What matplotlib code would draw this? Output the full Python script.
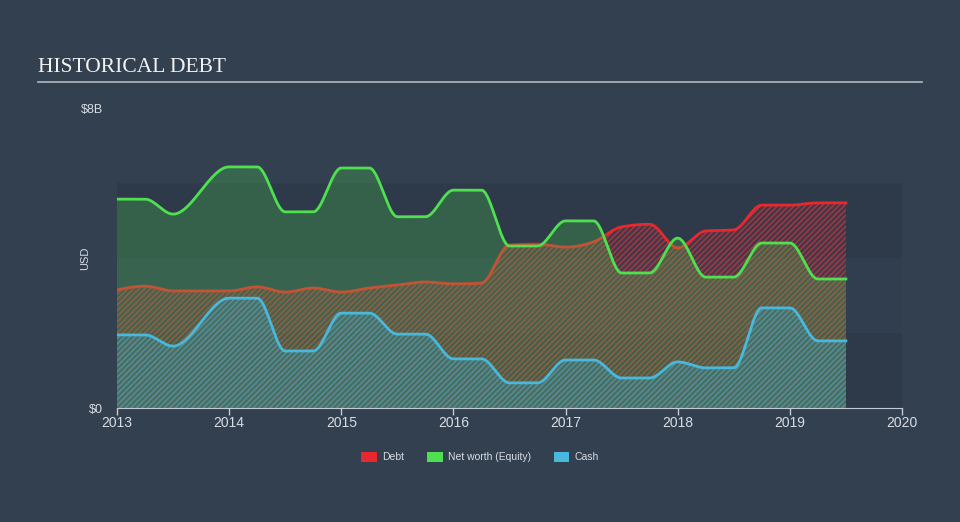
import numpy as np
import matplotlib
matplotlib.use("Agg")
import matplotlib.pyplot as plt
from matplotlib.patches import Patch, Rectangle
from matplotlib.lines import Line2D

# quarter-ish report dates (decimal years) and values in $B
dates = [2013.0, 2013.25, 2013.5, 2014.0, 2014.25, 2014.5, 2014.75, 2015.0, 2015.25,
         2015.5, 2015.75, 2016.0, 2016.25, 2016.5, 2016.75, 2017.0, 2017.25, 2017.5,
         2017.75, 2018.0, 2018.25, 2018.5, 2018.75, 2019.0, 2019.25, 2019.5]
debt = [3.15, 3.25, 3.12, 3.12, 3.23, 3.09, 3.20, 3.09, 3.20, 3.28, 3.36, 3.31, 3.33,
        4.35, 4.37, 4.29, 4.43, 4.83, 4.90, 4.27, 4.72, 4.75, 5.41, 5.41, 5.47, 5.47]
equity = [5.57, 5.57, 5.17, 6.43, 6.43, 5.23, 5.23, 6.40, 6.40, 5.10, 5.10, 5.81, 5.81,
          4.32, 4.32, 4.99, 4.99, 3.60, 3.60, 4.53, 3.49, 3.49, 4.40, 4.40, 3.44, 3.44]
cash = [1.95, 1.95, 1.65, 2.93, 2.93, 1.52, 1.52, 2.53, 2.53, 1.97, 1.97, 1.31, 1.31,
        0.67, 0.67, 1.28, 1.28, 0.80, 0.80, 1.23, 1.07, 1.07, 2.67, 2.67, 1.79, 1.79]
years = [2013, 2014, 2015, 2016, 2017, 2018, 2019, 2020]

BG = '#334050'
BAND_DARK = '#2e3a4a'
BAND_LIGHT = '#313e4f'
TXT = '#d8dde3'
RED = '#e8282d'
GREEN = '#4fe04f'
BLUE = '#48b8dc'


def monotone(x, y, n=40):
    # monotone cubic (like d3 curveMonotoneX), only for drawing the line
    x = np.asarray(x, float)
    y = np.asarray(y, float)
    h = np.diff(x)
    s = np.diff(y) / h
    m = np.zeros_like(y)
    for i in range(1, len(x) - 1):
        p = (s[i - 1] * h[i] + s[i] * h[i - 1]) / (h[i - 1] + h[i])
        m[i] = (np.sign(s[i - 1]) + np.sign(s[i])) * min(abs(s[i - 1]), abs(s[i]), 0.5 * abs(p))
    m[0] = (3 * s[0] - m[1]) / 2
    m[-1] = (3 * s[-1] - m[-2]) / 2
    xs, ys = [], []
    for i in range(len(h)):
        t = np.linspace(0, 1, n, endpoint=False)
        h00 = 2 * t**3 - 3 * t**2 + 1
        h10 = t**3 - 2 * t**2 + t
        h01 = -2 * t**3 + 3 * t**2
        h11 = t**3 - t**2
        xs.append(x[i] + t * h[i])
        ys.append(h00 * y[i] + h10 * h[i] * m[i] + h01 * y[i + 1] + h11 * h[i] * m[i + 1])
    xs.append([x[-1]])
    ys.append([y[-1]])
    return np.concatenate(xs), np.concatenate(ys)


plt.rcParams['font.family'] = ['Liberation Sans', 'DejaVu Sans']
plt.rcParams['hatch.linewidth'] = 1.0

fig = plt.figure(figsize=(9.6, 5.22), dpi=100, facecolor=BG)
ax = fig.add_axes([117 / 960, 1 - 408 / 522, 785 / 960, 300 / 522])
ax.set_facecolor(BG)

for i, c in enumerate([BAND_DARK, BAND_LIGHT, BAND_DARK]):
    ax.add_patch(Rectangle((2013, 2 * i), 7, 2, facecolor=c, edgecolor='none', zorder=0))

xd, yd = monotone(dates, debt)
ax.fill_between(xd, 0, yd, facecolor=(0.91, 0.16, 0.18, 0.12), edgecolor='#a93845',
                hatch='//////', linewidth=0, zorder=1)
ax.plot(xd, yd, color=RED, lw=2, zorder=2)

xe, ye = monotone(dates, equity)
ax.fill_between(xe, 0, ye, facecolor=(0.31, 0.88, 0.31, 0.24), linewidth=0, zorder=3)
ax.plot(xe, ye, color=GREEN, lw=2, zorder=4)

xc, yc = monotone(dates, cash)
ax.fill_between(xc, 0, yc, facecolor=(0.28, 0.72, 0.86, 0.18), edgecolor='#4f8e9e',
                hatch='//////', linewidth=0, zorder=5)
ax.plot(xc, yc, color=BLUE, lw=2, zorder=6)

ax.set_xlim(2013, 2020)
ax.set_ylim(0, 8)
ax.set_xticks(years)
ax.set_xticklabels([str(y) for y in years])
ax.set_yticks([0, 8])
ax.set_yticklabels(['$0', '$8B'])
ax.tick_params(axis='x', colors='#c3cad3', labelcolor=TXT, labelsize=10, length=5, width=1, pad=1)
ax.tick_params(axis='y', length=0, labelcolor=TXT, labelsize=9, pad=10)
for sp in ['top', 'right', 'left']:
    ax.spines[sp].set_visible(False)
ax.spines['bottom'].set_color('#c3cad3')
ax.spines['bottom'].set_zorder(7)
ax.set_ylabel('USD', color=TXT, fontsize=8)
ax.yaxis.set_label_coords(-0.034, 0.5)

fig.text(38 / 960, 1 - 68 / 522, 'HISTORICAL DEBT', color='#f2f2f2', fontsize=15.5,
         family='Liberation Serif', va='center', ha='left')
fig.add_artist(Line2D([38 / 960, 922 / 960], [1 - 82 / 522, 1 - 82 / 522],
                      color='#a9aeb5', lw=1.3))

handles = [Patch(facecolor=RED, label='Debt'),
           Patch(facecolor=GREEN, label='Net worth (Equity)'),
           Patch(facecolor=BLUE, label='Cash')]
fig.legend(handles=handles, loc='center', bbox_to_anchor=(0.5, 1 - 457 / 522), ncol=3,
           frameon=False, fontsize=7.5, labelcolor=TXT, handlelength=1.5, handleheight=1.1,
           columnspacing=2.2, handletextpad=0.5)

fig.savefig('out.png', dpi=100, facecolor=BG)
